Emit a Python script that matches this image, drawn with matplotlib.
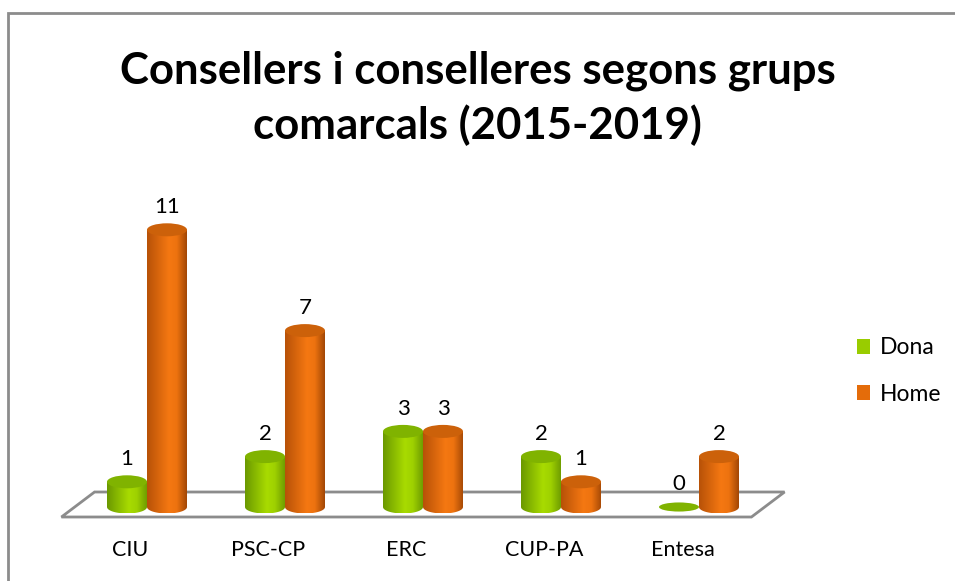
import numpy as np
import matplotlib.pyplot as plt
from matplotlib.patches import Ellipse, PathPatch, Polygon, Patch, Rectangle
from matplotlib.path import Path

categories = ["CIU", "PSC-CP", "ERC", "CUP-PA", "Entesa"]
dona = [1, 2, 3, 2, 0]
home = [11, 7, 3, 1, 2]
series_names = ["Dona", "Home"]
title = "Consellers i conselleres segons grups\ncomarcals (2015-2019)"

plt.rcParams['font.family'] = ['Lato', 'DejaVu Sans']

# shading stops (position, rgb) for the cylinder bodies
green_body = [(0.0, (0.42, 0.60, 0.0)), (0.55, (0.66, 0.86, 0.0)),
              (0.75, (0.62, 0.82, 0.0)), (1.0, (0.44, 0.62, 0.0))]
orange_body = [(0.0, (0.72, 0.32, 0.03)), (0.55, (0.96, 0.47, 0.07)),
               (0.75, (0.93, 0.45, 0.06)), (1.0, (0.64, 0.28, 0.02))]
green_top = (0.50, 0.70, 0.0)
orange_top = (0.80, 0.38, 0.04)
legend_colors = ["#99cc00", "#e46c0a"]

W, H = 955, 581
fig = plt.figure(figsize=(W / 100, H / 100), dpi=100)
ax = fig.add_axes([0, 0, 1, 1])

# pixel layout -> data scale: category spacing 138px, 25.2px per unit
px_cat, px_unit, x0_px, y0_px = 138.0, 25.2, 147.0, 507.0
ax.set_xlim(-x0_px / px_cat, (W - x0_px) / px_cat)
ax.set_ylim((y0_px - H) / px_unit, y0_px / px_unit)
ax.axis('off')

n = len(categories)
bar_w = 40 / px_cat
ell_h = 13 / px_unit
depth = 0.12

# floor
front, back = -10 / px_unit, 15 / px_unit
floor = Polygon([(-0.5 - depth, front), (n - 0.5 - depth, front),
                 (n - 0.5 + depth, back), (-0.5 + depth, back)],
                closed=True, facecolor='white', edgecolor='#8c8c8c', lw=2, zorder=1)
ax.add_patch(floor)


def gradient(stops, m=64):
    t = np.linspace(0, 1, m)
    pos = [s[0] for s in stops]
    cols = np.array([s[1] for s in stops])
    rgb = np.stack([np.interp(t, pos, cols[:, k]) for k in range(3)], axis=-1)
    return rgb[np.newaxis, :, :]


def cylinder(xc, v, body, top, z):
    l, r = xc - bar_w / 2, xc + bar_w / 2
    if v > 0:
        theta = np.linspace(np.pi, 2 * np.pi, 40)
        arc = np.column_stack([xc + bar_w / 2 * np.cos(theta), ell_h / 2 * np.sin(theta)])
        verts = [(l, v), (l, 0)] + [tuple(p) for p in arc] + [(r, v), (l, v)]
        patch = PathPatch(Path(verts), facecolor='none', edgecolor='none', zorder=z)
        ax.add_patch(patch)
        im = ax.imshow(gradient(body), extent=[l, r, -ell_h / 2, v], aspect='auto',
                       interpolation='bilinear', zorder=z)
        im.set_clip_path(patch)
        ax.add_patch(Ellipse((xc, v), bar_w, ell_h, facecolor=top, edgecolor='none', zorder=z + 0.1))
    else:
        ax.add_patch(Ellipse((xc, 0), bar_w, ell_h * 0.7, facecolor=top, edgecolor='none', zorder=z + 0.1))
    ax.text(xc, v + 0.9, str(v), ha='center', va='center', fontsize=16, color='black', zorder=5)


off = 20 / px_cat
for i in range(n):
    cylinder(i - off, dona[i], green_body, green_top, 2)
    cylinder(i + off, home[i], orange_body, orange_top, 3)
    ax.text(i - depth, (y0_px - 550) / px_unit, categories[i], ha='center', va='center', fontsize=15.5)

ax.set_xlim(-x0_px / px_cat, (W - x0_px) / px_cat)
ax.set_ylim((y0_px - H) / px_unit, y0_px / px_unit)

fig.text(0.5, 1 - 98 / H, title, ha='center', va='center', fontsize=31.5,
         fontweight='bold', linespacing=1.38)

handles = [Patch(facecolor=c, edgecolor='none') for c in legend_colors]
fig.legend(handles, series_names, loc='center left', bbox_to_anchor=(836 / W, 1 - 371 / H),
           frameon=False, fontsize=16.5, handlelength=0.6, handleheight=0.6,
           handletextpad=0.4, labelspacing=1.1)

# chart border (left and top edges visible)
fig.add_artist(Rectangle((8 / W, -0.05), 1.1, 1 - 13 / H + 0.05, transform=fig.transFigure,
                         fill=False, edgecolor='#8c8c8c', lw=2))

fig.savefig('out.png', dpi=100)
